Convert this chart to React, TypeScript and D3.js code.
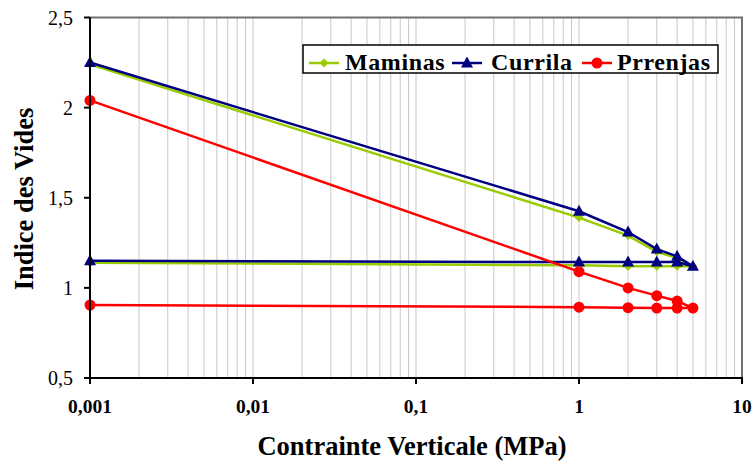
import React from "react";
import * as d3 from "d3";

const pressures = [0.001, 1, 2, 3, 4, 5, 4, 3, 2, 1, 0.001];
const maminas = [2.24, 1.39, 1.29, 1.2, 1.165, 1.12, 1.12, 1.12, 1.12, 1.125, 1.14];
const currila = [2.25, 1.425, 1.31, 1.215, 1.175, 1.12, 1.143, 1.143, 1.143, 1.143, 1.15];
const prrenjas = [2.04, 1.09, 1.0, 0.957, 0.927, 0.888, 0.888, 0.888, 0.89, 0.893, 0.905];

const seriesNames = ["Maminas", "Currila", "Prrenjas"];
const seriesColors = ["#99CC00", "#000080", "#FF0000"];
const seriesMarkers = ["diamond", "triangle", "circle"];
const seriesValues = [maminas, currila, prrenjas];

const xTicks = [0.001, 0.01, 0.1, 1, 10];
const xTickLabels = ["0,001", "0,01", "0,1", "1", "10"];
const yTicks = [0.5, 1, 1.5, 2, 2.5];
const yTickLabels = ["0,5", "1", "1,5", "2", "2,5"];

function Marker({ type, x, y, color }: { type: string; x: number; y: number; color: string }) {
  if (type === "circle") return <circle cx={x} cy={y} r={5.5} fill={color} />;
  if (type === "triangle")
    return <path d={`M${x},${y - 6.5}L${x + 6},${y + 4.5}L${x - 6},${y + 4.5}Z`} fill={color} />;
  return <path d={`M${x},${y - 4.5}L${x + 4.5},${y}L${x},${y + 4.5}L${x - 4.5},${y}Z`} fill={color} />;
}

function T(props: any) {
  const { children, ...rest } = props;
  return (
    <text {...rest} style={{ fontFamily: `"Liberation Serif", "Times New Roman", serif` }}>
      {children}
    </text>
  );
}

export default function App() {
  const W = 753, H = 461;
  const left = 90, right = 742, top = 17.5, bottom = 378;
  const x = d3.scaleLog().domain([0.001, 10]).range([left, right]);
  const y = d3.scaleLinear().domain([0.5, 2.5]).range([bottom, top]);
  const line = d3
    .line<[number, number]>()
    .x((d) => x(d[0]))
    .y((d) => y(d[1]));

  const grid: number[] = [];
  [0.001, 0.01, 0.1, 1].forEach((dec) => {
    for (let m = 1; m <= 9; m++) grid.push(dec * m);
  });
  grid.push(10);

  const legendItems = [
    { lx: 309, tx: 345 },
    { lx: 452, tx: 491 },
    { lx: 582, tx: 617 },
  ];

  return (
    <svg width={W} height={H} style={{ position: "absolute", left: 0, top: 0, background: "#fff" }}>
      <rect x={0} y={0} width={W} height={H} fill="#fff" />
      {grid.map((g, i) => (
        <line key={i} x1={x(g)} x2={x(g)} y1={top} y2={bottom} stroke="#C8C8C8" strokeWidth={1} />
      ))}
      <path d={`M${left},${top}H${right}V${bottom}`} fill="none" stroke="#707070" strokeWidth={2} />
      {seriesValues.map((vals, si) => {
        const pts = pressures.map((p, i) => [p, vals[i]] as [number, number]);
        return (
          <g key={si}>
            <path d={line(pts) || ""} fill="none" stroke={seriesColors[si]} strokeWidth={2.5} />
            {pts.map((p, i) => (
              <Marker key={i} type={seriesMarkers[si]} x={x(p[0])} y={y(p[1])} color={seriesColors[si]} />
            ))}
          </g>
        );
      })}
      <line x1={left} x2={left} y1={top} y2={bottom} stroke="#000" strokeWidth={2} />
      <line x1={left} x2={right + 1} y1={bottom} y2={bottom} stroke="#000" strokeWidth={2} />
      {yTicks.map((t, i) => (
        <g key={i}>
          <line x1={left - 6} x2={left} y1={y(t)} y2={y(t)} stroke="#000" strokeWidth={2} />
          <T x={73} y={y(t)} dy="0.35em" textAnchor="end" fontSize={20} fill="#000">
            {yTickLabels[i]}
          </T>
        </g>
      ))}
      {xTicks.map((t, i) => (
        <g key={i}>
          <line x1={x(t)} x2={x(t)} y1={bottom} y2={bottom + 6} stroke="#000" strokeWidth={2} />
          <T x={x(t)} y={413} textAnchor="middle" fontSize={19.5} fontWeight="bold" fill="#000">
            {xTickLabels[i]}
          </T>
        </g>
      ))}
      <T x={412} y={455} textAnchor="middle" fontSize={26.5} fontWeight="bold" fill="#000">
        Contrainte Verticale (MPa)
      </T>
      <T transform={`translate(33,199) rotate(-90)`} textAnchor="middle" fontSize={26.5} fontWeight="bold" fill="#000">
        Indice des Vides
      </T>
      <rect x={303} y={45} width={415} height={28} fill="#fff" stroke="#000" strokeWidth={1.5} />
      {legendItems.map((it, i) => (
        <g key={i}>
          <line x1={it.lx} x2={it.lx + 30} y1={63} y2={63} stroke={seriesColors[i]} strokeWidth={2.5} />
          <Marker type={seriesMarkers[i]} x={it.lx + 15} y={63} color={seriesColors[i]} />
          <T x={it.tx} y={69.5} fontSize={24} fontWeight="bold" letterSpacing={0.6} fill="#000">
            {seriesNames[i]}
          </T>
        </g>
      ))}
    </svg>
  );
}
